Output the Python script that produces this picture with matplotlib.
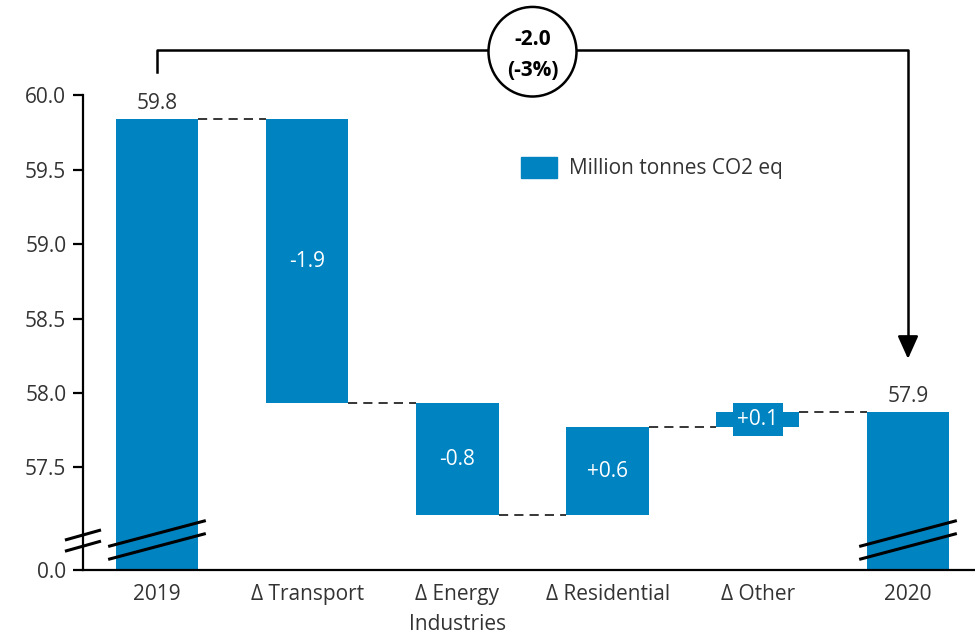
import numpy as np
import matplotlib
matplotlib.use("Agg")
import matplotlib.pyplot as plt
from matplotlib.patches import Ellipse, Rectangle

plt.rcParams["font.family"] = ["Open Sans", "DejaVu Sans"]

# ── Données ──────────────────────────────────────────────────────────────────
CATEGORIES = ["2019", "Δ Transport", "Δ Energy\nIndustries", "Δ Residential", "Δ Other", "2020"]
START_VALUE = 59.84
END_VALUE = 57.87
DELTAS = [-1.91, -0.75, 0.59, 0.10]
DELTA_LABELS = ["-1.9", "-0.8", "+0.6", "+0.1"]
OTHER_SPAN = [57.71, 57.93]          # composantes +/- de "Other"
TOTAL_CHANGE = "-2.0"
TOTAL_PCT = "(-3%)"
YTICKS = [57.5, 58.0, 58.5, 59.0, 59.5, 60.0]
Y_BREAK_BOTTOM = 56.81               # position de l'axe coupé, affichée "0.0"

BLUE = "#0083C1"
TXT = "#333333"
W = 0.55
FS = 15

fig = plt.figure(figsize=(9.75, 6.41), dpi=100)
ax = fig.add_axes([0.0851, 0.1108, 1 - 0.0851, 0.8513 - 0.1108])

x = np.arange(len(CATEGORIES))
levels = START_VALUE + np.concatenate([[0], np.cumsum(DELTAS)])

# barres totales
for xi, val in [(x[0], START_VALUE), (x[-1], END_VALUE)]:
    ax.bar(xi, val - Y_BREAK_BOTTOM, W, bottom=Y_BREAK_BOTTOM, color=BLUE, zorder=2)
    ax.text(xi, val + 0.035, f"{val:.1f}", ha="center", va="bottom", fontsize=FS, color=TXT)

# barres flottantes
for i, d in enumerate(DELTAS):
    xi = x[i + 1]
    lo, hi = sorted([levels[i], levels[i + 1]])
    ax.bar(xi, hi - lo, W, bottom=lo, color=BLUE, zorder=2)
    if i == len(DELTAS) - 1:
        ax.bar(xi, OTHER_SPAN[1] - OTHER_SPAN[0], W * 0.6, bottom=OTHER_SPAN[0], color=BLUE, zorder=2)
    ax.text(xi, (lo + hi) / 2, DELTA_LABELS[i], ha="center", va="center",
            fontsize=FS, color="white", zorder=3)

# connecteurs pointillés
for i, lv in enumerate(levels):
    ax.plot([x[i] + W / 2, x[i + 1] - W / 2], [lv, lv], ls=(0, (6, 4)),
            color="black", lw=1.1, zorder=1)

# axes
ax.set_xlim(-0.4927, 5.446)
ax.set_ylim(Y_BREAK_BOTTOM, 60.0)
ax.set_yticks([Y_BREAK_BOTTOM] + YTICKS)
ax.set_yticklabels(["0.0"] + [f"{t:.1f}" for t in YTICKS], fontsize=FS, color=TXT)
ax.set_xticks(x)
ax.set_xticklabels(CATEGORIES, fontsize=FS, color=TXT, linespacing=1.55)
ax.tick_params(axis="x", length=0, pad=10)
ax.tick_params(axis="y", length=7, width=1.6, pad=5)
for s in ["top", "right"]:
    ax.spines[s].set_visible(False)
ax.spines["left"].set_linewidth(1.6)
ax.spines["bottom"].set_linewidth(1.6)
ax.set_facecolor("none")


# marques de coupure
def break_marks(xc, half, yc, dy, gap):
    for off in (0, -gap):
        ax.plot([xc - half, xc + half], [yc + off - dy, yc + off + dy],
                color="black", lw=2.2, clip_on=False, zorder=4, solid_capstyle="butt")


break_marks(x[0], W / 2 + 0.05, 57.055, 0.087, 0.087)
break_marks(x[-1], W / 2 + 0.05, 57.055, 0.087, 0.087)
break_marks(-0.4927, 0.12, 57.045, 0.034, 0.075)

# crochet du total
y_top = 60.303
ax.plot([x[0], x[0], x[-1], x[-1]], [60.156, y_top, y_top, 58.33],
        color="black", lw=1.8, clip_on=False, zorder=4)
ax.annotate("", xy=(x[-1], 58.21), xytext=(x[-1], 58.36),
            arrowprops=dict(arrowstyle="-|>,head_width=0.45,head_length=1.0",
                            color="black", lw=1.8, mutation_scale=14), annotation_clip=False)
xc = (x[0] + x[-1]) / 2
ax.add_patch(Ellipse((xc, y_top - 0.01), 2 * 44 / 150.2, 2 * 45 / 149.5, facecolor="white",
                     edgecolor="black", lw=1.8, clip_on=False, zorder=5))
ax.text(xc, y_top + 0.075, TOTAL_CHANGE, ha="center", va="center", fontsize=FS,
        fontweight="bold", color="black", zorder=6)
ax.text(xc, y_top - 0.135, TOTAL_PCT, ha="center", va="center", fontsize=FS,
        fontweight="bold", color="black", zorder=6)

# légende
ax.legend([Rectangle((0, 0), 1, 1, color=BLUE)], ["Million tonnes CO2 eq"],
          loc="center left", bbox_to_anchor=(0.515, 0.738), bbox_transform=fig.transFigure,
          frameon=False, fontsize=FS, handlelength=1.75, handleheight=1.2,
          handletextpad=0.55, labelcolor=TXT)

fig.savefig("out.png", dpi=100)
